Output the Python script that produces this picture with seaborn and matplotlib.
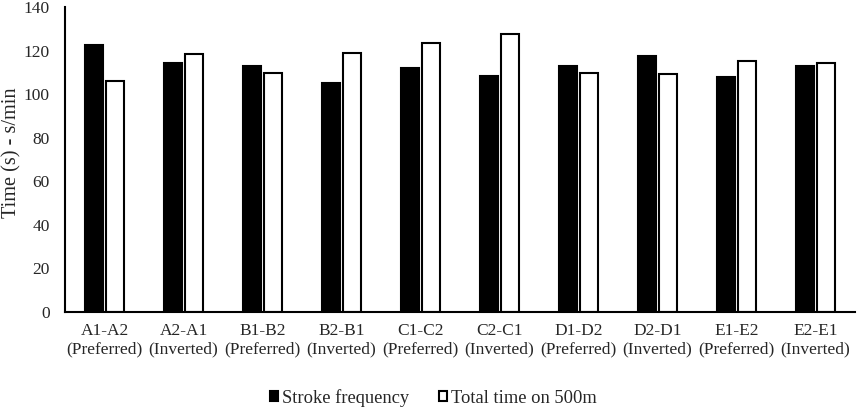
import matplotlib
matplotlib.use("Agg")
import matplotlib.pyplot as plt
import pandas as pd
import seaborn as sns

conditions = [
    "A1-A2\n(Preferred)", "A2-A1\n(Inverted)", "B1-B2\n(Preferred)", "B2-B1\n(Inverted)",
    "C1-C2\n(Preferred)", "C2-C1\n(Inverted)", "D1-D2\n(Preferred)", "D2-D1\n(Inverted)",
    "E1-E2\n(Preferred)", "E2-E1\n(Inverted)",
]
stroke_frequency = [122.5, 114.5, 113.1, 104.9, 111.9, 108.1, 113.1, 117.4, 107.8, 113.1]
total_time_500m = [106.0, 118.5, 109.8, 119.0, 123.4, 127.7, 109.8, 109.3, 115.1, 114.2]
series_names = ["Stroke frequency", "Total time on 500m"]
y_ticks = [0, 20, 40, 60, 80, 100, 120, 140]

df = pd.DataFrame({
    "condition": conditions * 2,
    "value": stroke_frequency + total_time_500m,
    "series": [series_names[0]] * len(conditions) + [series_names[1]] * len(conditions),
})

sns.set_theme(style="white")
plt.rcParams["font.family"] = ["Liberation Serif", "DejaVu Serif"]

fig = plt.figure(figsize=(8.58, 4.09), dpi=100)
ax = fig.add_axes([0.0758, 0.237, 0.9207, 0.746])

sns.barplot(
    data=df, x="condition", y="value", hue="series", order=conditions,
    palette={series_names[0]: "black", series_names[1]: "white"},
    width=0.54, gap=0.18, edgecolor="black", linewidth=1.5, ax=ax,
)

ax.set_ylim(0, 140)
ax.set_yticks(y_ticks)
ax.set_xlim(-0.5, len(conditions) - 0.5)
ax.set_xlabel("")
ax.set_ylabel("Time (s) - s/min", fontsize=14.6)
ax.yaxis.set_label_coords(-0.055, 0.523)
ax.tick_params(axis="y", length=0, pad=11, labelsize=12.5)
ax.tick_params(axis="x", length=0, pad=8, labelsize=12.5)
for side in ["top", "right"]:
    ax.spines[side].set_visible(False)
for side in ["left", "bottom"]:
    ax.spines[side].set_color("black")
    ax.spines[side].set_linewidth(1.5)

ax.get_legend().remove()
handles, labels = ax.get_legend_handles_labels()
fig.legend(
    handles, labels, loc="center", bbox_to_anchor=(0.505, 0.027), ncol=2,
    frameon=False, fontsize=13.3, handlelength=0.45, handleheight=0.45,
    handletextpad=0.2, columnspacing=1.6,
)

fig.savefig("out.png", dpi=100)
plt.close(fig)
